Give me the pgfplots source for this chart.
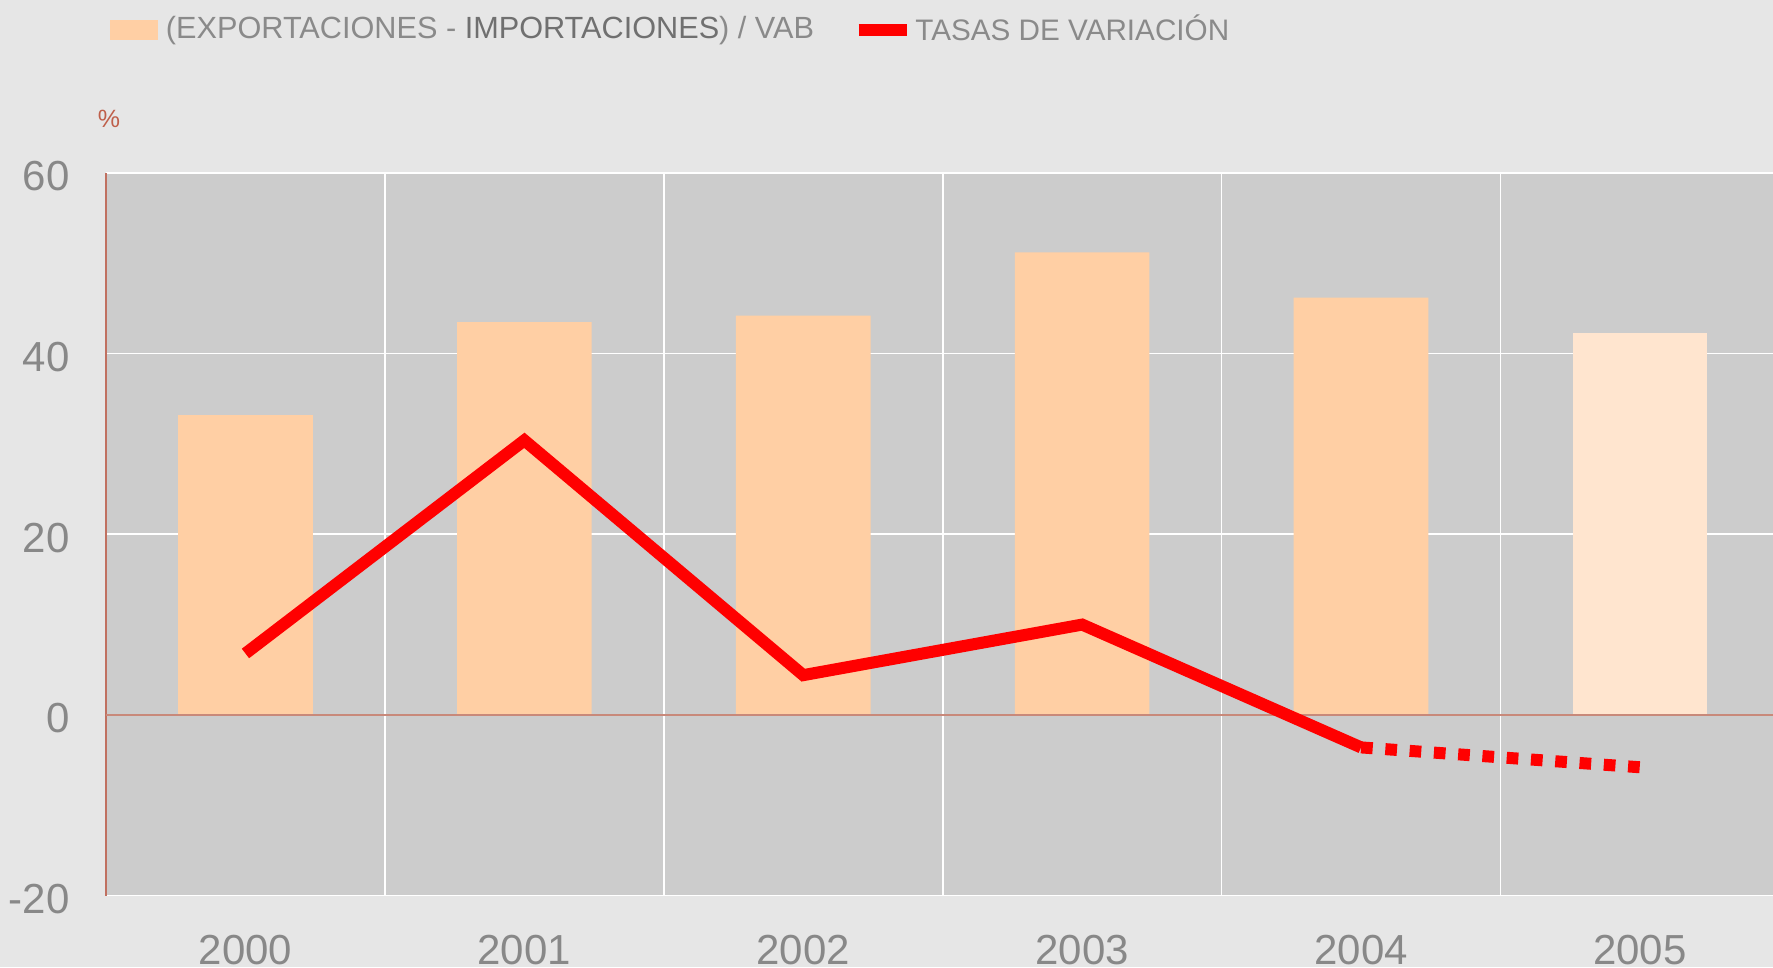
\documentclass[border=0pt]{standalone}
\usepackage{pgfplots}
\pgfplotsset{compat=1.18}
\usepackage{fontspec}
\setmainfont{Liberation Sans}
\definecolor{bgout}{HTML}{E6E6E6}
\definecolor{plotbg}{HTML}{CCCCCC}
\definecolor{barA}{HTML}{FFCFA4}
\definecolor{barB}{HTML}{FFE5CF}
\definecolor{ticktxt}{HTML}{888888}
\definecolor{legtxt}{HTML}{8A8A8A}
\definecolor{legdark}{HTML}{707070}
\definecolor{zeroline}{HTML}{C8897A}
\definecolor{yaxline}{HTML}{C07060}
\definecolor{pct}{HTML}{BF5F4A}
\definecolor{lred}{HTML}{FF0000}
\begin{document}
\begin{tikzpicture}
\fill[bgout] (-31.8pt,-21.45pt) rectangle (500.1pt,268.65pt);
\begin{axis}[
  at={(0pt,0pt)}, anchor=south west,
  scale only axis,
  width=500.1pt, height=216.75pt,
  xmin=-0.5, xmax=5.477,
  ymin=-20, ymax=60,
  axis background/.style={fill=plotbg},
  axis x line*=bottom, axis y line*=left,
  x axis line style={draw=white, line width=0.5pt, -},
  y axis line style={draw=yaxline, line width=0.4pt, -},
  xtick={0,1,2,3,4,5},
  xticklabels={2000,2001,2002,2003,2004,2005},
  minor xtick={0.5,1.5,2.5,3.5,4.5},
  ytick={-20,0,20,40,60},
  major tick length=0pt, minor tick length=0pt,
  ymajorgrids, xminorgrids,
  major grid style={draw=white, line width=0.5pt},
  minor grid style={draw=white, line width=0.5pt},
  /pgf/number format/assume math mode=true,
  tick label style={font=\fontsize{12.6}{14}\selectfont, text=ticktxt, inner sep=0pt},
  yticklabel style={anchor=east, xshift=-10.7pt, yshift=-1pt},
  xticklabel style={anchor=north, yshift=-11.6pt},
  legend columns=-1,
  legend cell align=left,
  legend style={draw=none, fill=none, inner sep=0pt, outer sep=0pt,
    at={(axis description cs:0.0024,1.198)}, anchor=west,
    font=\fontsize{9.2}{11}\selectfont, text=legtxt,
    nodes={inner sep=0pt},
    /tikz/column 1/.style={column sep=2.4pt},
    /tikz/column 2/.style={column sep=11.6pt},
    /tikz/column 3/.style={column sep=0.8pt}},
]
\addplot[ybar, bar width=40.4pt, bar shift=0pt, fill=barA, draw=none,
  legend image code/.code={\fill[barA] (0pt,-3pt) rectangle (14.4pt,3pt);}]
  coordinates {(0,33.2) (1,43.5) (2,44.2) (3,51.2) (4,46.2)};
\addplot[ybar, bar width=40.4pt, bar shift=0pt, fill=barB, draw=none, forget plot]
  coordinates {(5,42.3)};
\addplot[zeroline, line width=0.6pt, forget plot] coordinates {(-0.5,0) (5.477,0)};
\addplot[lred, line width=3.6pt, line cap=butt, line join=miter, mark=none,
  legend image code/.code={\draw[lred, line width=3.6pt] (0pt,0pt) -- (14.4pt,0pt);}]
  coordinates {(0,6.8) (1,30.4) (2,4.4) (3,10.0) (4,-3.6)};
\addplot[lred, line width=3.6pt, line cap=butt, dash pattern=on 3.5pt off 3.8pt, mark=none, forget plot]
  coordinates {(4,-3.6) (5,-5.8)};
\legend{(EXPORTACIONES - {\color{legdark}IMPORTACIONES}) / VAB, {\fontsize{8.9}{11}\selectfont TASAS DE VARIACIÓN}}
\end{axis}
\node[text=pct, font=\fontsize{7.5}{8}\selectfont, inner sep=0pt] at (0.9pt,232.95pt) {\%};
\pgfresetboundingbox
\path[use as bounding box] (-31.8pt,-21.45pt) rectangle (500.1pt,268.65pt);
\end{tikzpicture}
\end{document}
